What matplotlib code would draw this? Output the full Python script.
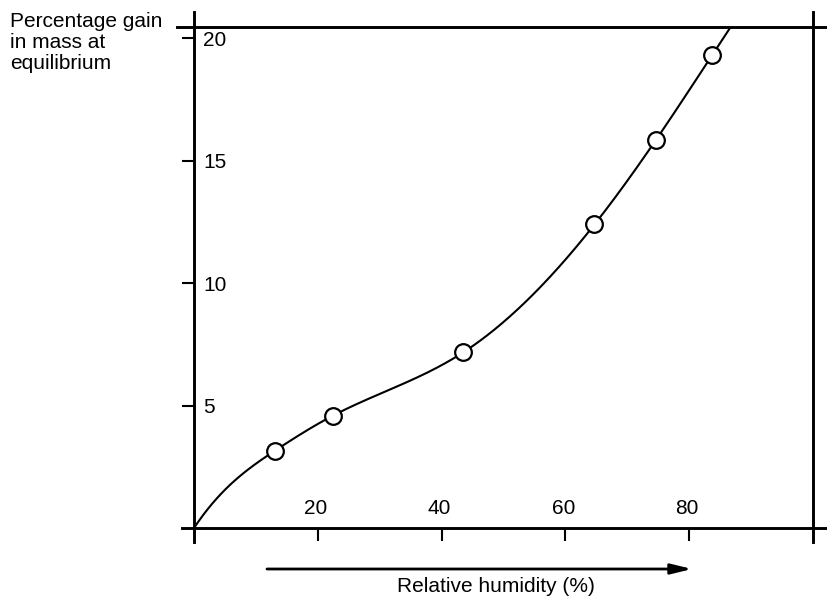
import numpy as np
import matplotlib

matplotlib.use("Agg")
import matplotlib.pyplot as plt

# measured points (relative humidity %, percentage gain in mass)
rh = [0.0, 13.1, 22.4, 43.5, 64.7, 74.6, 83.7]
gain = [0.0, 3.16, 4.58, 7.17, 12.39, 15.83, 19.3]
marker_idx = [1, 2, 3, 4, 5, 6]
start_slope = 0.38  # slope of the drawn curve where it leaves the origin

x_ticks = [20, 40, 60, 80]
y_ticks = [5, 10, 15, 20]

plt.rcParams["font.family"] = ["Liberation Sans", "DejaVu Sans"]


def spline(xs, ys, xq, d0):
    # cubic spline: clamped slope d0 at the first point, natural at the last
    xs = np.asarray(xs, float)
    ys = np.asarray(ys, float)
    n = len(xs)
    h = np.diff(xs)
    A = np.zeros((n, n))
    b = np.zeros(n)
    A[0, 0] = 2 * h[0]
    A[0, 1] = h[0]
    b[0] = 6 * ((ys[1] - ys[0]) / h[0] - d0)
    A[-1, -1] = 1.0
    for i in range(1, n - 1):
        A[i, i - 1] = h[i - 1]
        A[i, i] = 2 * (h[i - 1] + h[i])
        A[i, i + 1] = h[i]
        b[i] = 6 * ((ys[i + 1] - ys[i]) / h[i] - (ys[i] - ys[i - 1]) / h[i - 1])
    m = np.linalg.solve(A, b)
    idx = np.clip(np.searchsorted(xs, xq) - 1, 0, n - 2)
    x0, x1 = xs[idx], xs[idx + 1]
    hh = x1 - x0
    t0 = x1 - xq
    t1 = xq - x0
    return (m[idx] * t0 ** 3 / (6 * hh) + m[idx + 1] * t1 ** 3 / (6 * hh)
            + (ys[idx] / hh - m[idx] * hh / 6) * t0
            + (ys[idx + 1] / hh - m[idx + 1] * hh / 6) * t1)


fig = plt.figure(figsize=(8.27, 5.96), dpi=100)
W, H = 827, 596
ax = fig.add_axes([194 / W, 68 / H, 619 / W, 501 / H])
ax.set_xlim(0, 100)
ax.set_ylim(0, 20.45)
for s in ax.spines.values():
    s.set_visible(False)

xq = np.linspace(0, 90, 500)
ax.plot(xq, spline(rh, gain, xq, start_slope), color="black", lw=1.5)
ax.plot([rh[i] for i in marker_idx], [gain[i] for i in marker_idx], "o",
        ms=12, mfc="white", mec="black", mew=1.6, zorder=3)

# frame lines that run past the corners
lw = 2.1
ax.axvline(0, ymin=-0.028, ymax=1.03, color="black", lw=lw, clip_on=False)
ax.axvline(100, ymin=-0.028, ymax=1.03, color="black", lw=lw, clip_on=False)
ax.axhline(0, xmin=-0.019, xmax=1.023, color="black", lw=lw, clip_on=False)
ax.axhline(20.45, xmin=-0.027, xmax=1.023, color="black", lw=lw, clip_on=False)

ax.set_xticks(x_ticks)
ax.set_yticks(y_ticks)
ax.tick_params(direction="out", length=9, width=1.5, labelbottom=False, labelleft=False)

for v in x_ticks:
    ax.annotate(str(v), (v, 0), xytext=(-2, 10), textcoords="offset pixels",
                ha="center", va="bottom", fontsize=15)
for v in y_ticks:
    ax.annotate(str(v), (0, v), xytext=(9, -2), textcoords="offset pixels",
                ha="left", va="center", fontsize=15)

fig.text(10 / W, 1 - 12 / H, "Percentage gain\nin mass at\nequilibrium",
         ha="left", va="top", fontsize=15, linespacing=1.12)

ax.annotate("", xy=(692 / W, 1 - 569 / H), xytext=(267 / W, 1 - 569 / H),
            xycoords="figure fraction", textcoords="figure fraction",
            arrowprops=dict(arrowstyle="-|>,head_length=0.9,head_width=0.22",
                            mutation_scale=14, lw=2, color="black",
                            shrinkA=0, shrinkB=0))
fig.text(496 / W, 1 - 587 / H, "Relative humidity (%)", ha="center", va="center",
         fontsize=15)

fig.savefig("out.png", dpi=100)
